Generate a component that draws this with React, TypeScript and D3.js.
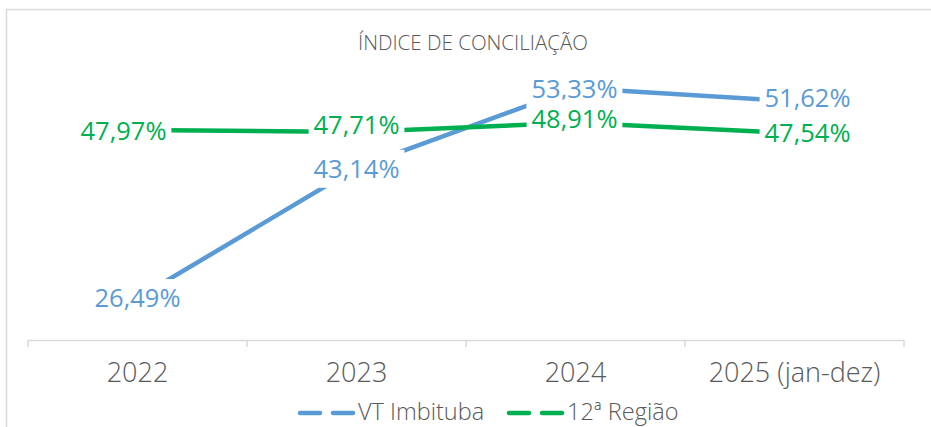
import React from "react";
import * as d3 from "d3";

const categories = ["2022", "2023", "2024", "2025 (jan-dez)"];
const seriesNames = ["VT Imbituba", "12ª Região"];
const vtImbituba = [26.49, 43.14, 53.33, 51.62];
const regiao12 = [47.97, 47.71, 48.91, 47.54];
const vtLabels = ["26,49%", "43,14%", "53,33%", "51,62%"];
const regiaoLabels = ["47,97%", "47,71%", "48,91%", "47,54%"];
// label offsets from the data point (text centre)
const vtOffsets = [[0, 0], [0, 1], [-1, 1], [13, -4]];
const regiaoOffsets = [[-14, 1], [0, -7], [-1, -4], [13, 0]];

const W = 931;
const H = 427;
const BLUE = "#5B9BD5";
const GREEN = "#00B050";
const GRAY = "#595959";
const AXIS = "#D9D9D9";
const LABEL_FONT = 25.5;

export default function App() {
  const x = d3.scalePoint<string>().domain(categories).range([28, 904]).padding(0.5);
  const band = d3.scaleBand<string>().domain(categories).range([28, 904]);
  const y = d3.scaleLinear().domain([21, 55]).range([341, 75]);

  const line = d3
    .line<number>()
    .x((_, i) => x(categories[i]) as number)
    .y((d) => y(d));

  const series = [
    { name: seriesNames[0], values: vtImbituba, labels: vtLabels, offsets: vtOffsets, color: BLUE },
    { name: seriesNames[1], values: regiao12, labels: regiaoLabels, offsets: regiaoOffsets, color: GREEN },
  ];

  const tickXs = [...categories.map((c) => band(c) as number), 904];
  const textW = LABEL_FONT * 3.364;

  return (
    <svg
      width={W}
      height={H}
      style={{ position: "absolute", left: 0, top: 0, background: "#fff" }}
      fontFamily="'Open Sans', 'Noto Sans', sans-serif"
    >
      <rect x={0} y={0} width={W} height={H} fill="#fff" />
      <rect x={6.5} y={9.5} width={W + 20} height={H + 20} fill="#fff" stroke={AXIS} strokeWidth={1.5} />
      <text x={473} y={50} textAnchor="middle" fontSize={20} fontWeight={300} fill={GRAY} textLength={230} lengthAdjust="spacingAndGlyphs">
        ÍNDICE DE CONCILIAÇÃO
      </text>

      {/* x axis */}
      <line x1={28} x2={904} y1={340.5} y2={340.5} stroke={AXIS} strokeWidth={1.5} />
      {tickXs.map((t, i) => (
        <line key={i} x1={t} x2={t} y1={340} y2={347} stroke={AXIS} strokeWidth={1.5} />
      ))}
      {categories.map((c) => (
        <text key={c} x={x(c)} y={382} textAnchor="middle" fontSize={27} fontWeight={300} fill={GRAY}>
          {c}
        </text>
      ))}

      {/* lines */}
      {series.map((s) => (
        <path key={s.name} d={line(s.values) || ""} fill="none" stroke={s.color} strokeWidth={4.5} strokeLinejoin="round" />
      ))}

      {/* labels */}
      {series.map((s) =>
        s.values.map((v, i) => {
          const cx = (x(categories[i]) as number) + s.offsets[i][0];
          const cy = y(v) + s.offsets[i][1];
          return (
            <g key={s.name + i}>
              <rect x={cx - textW / 2 - 5} y={cy - 19} width={textW + 10} height={38} fill="#fff" />
              <text x={cx} y={cy + LABEL_FONT * 0.357} textAnchor="middle" fontSize={LABEL_FONT} fill={s.color}>
                {s.labels[i]}
              </text>
            </g>
          );
        })
      )}

      {/* legend */}
      {series.map((s, i) => {
        const lx = i === 0 ? 299 : 508;
        return (
          <g key={s.name}>
            <line x1={lx + 1} x2={lx + 56} y1={413} y2={413} stroke={s.color} strokeWidth={4.5} strokeDasharray="20 13" strokeLinecap="round" />
            <text x={lx + 59} y={420} fontSize={23.5} fontWeight={300} fill={GRAY}>
              {s.name}
            </text>
          </g>
        );
      })}
    </svg>
  );
}
